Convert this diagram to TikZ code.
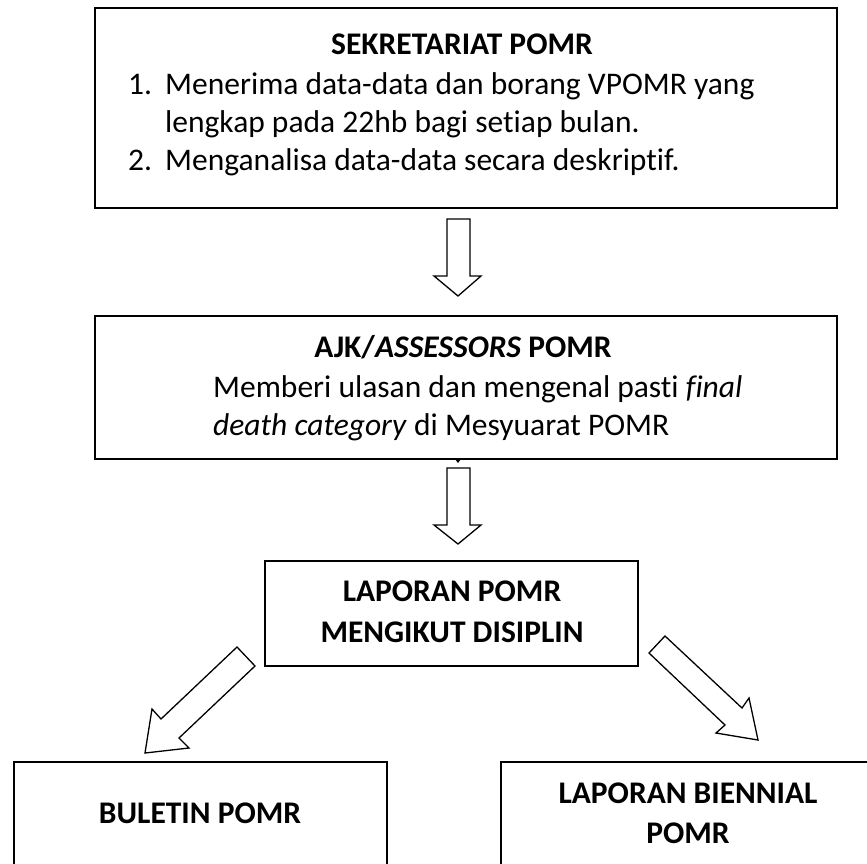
\documentclass[tikz,border=0pt]{standalone}
\usepackage{fontspec}
\setmainfont{Carlito}[Ligatures=NoCommon]
\begin{document}
\begin{tikzpicture}[x=1pt,y=-1pt,
  box/.style={draw,line width=1.8pt},
  blockarrow/.style={draw,line width=1.3pt,line join=miter,fill=white},
  txt/.style={inner sep=0pt,font=\fontsize{31.5}{38}\selectfont},
  btxt/.style={txt,font=\fontsize{31.5}{38}\selectfont\bfseries}]
\useasboundingbox (0,0) rectangle (867,863);
\clip (0,0) rectangle (867,863);
% boxes
\draw[box] (95,8) rectangle (837,208);
\draw[box] (95,316) rectangle (837,459);
\draw[box] (265,561) rectangle (638,666);
\draw[box] (14,762) rectangle (387,900);
\draw[box] (501,762) rectangle (880,900);
% box 1 text
\node[btxt,anchor=base] (t1) at (462,54) {SEKRETARIAT POMR};
\node[txt,anchor=base west] (n1) at (128,94) {1.};
\node[txt,anchor=base west] (l1) at (165,94) {Menerima data-data dan borang VPOMR yang};
\node[txt,anchor=base west] (l2) at (165,132) {lengkap pada 22hb bagi setiap bulan.};
\node[txt,anchor=base west] (n2) at (128,170) {2.};
\node[txt,anchor=base west] (l3) at (165,170) {Menganalisa data-data secara deskriptif.};
% box 2 text
\node[btxt,anchor=base] (t2) at (463,357) {AJK/\textit{ASSESSORS} POMR};
\node[txt,anchor=base west] (m1) at (213,397) {Memberi ulasan dan mengenal pasti \textit{final}};
\node[txt,anchor=base west] (m2) at (213,435) {\textit{death category} di Mesyuarat POMR};
% box 3 text
\node[btxt,anchor=base] (t3a) at (452,601) {LAPORAN POMR};
\node[btxt,anchor=base] (t3b) at (452,642) {MENGIKUT DISIPLIN};
% bottom boxes
\node[btxt,anchor=base] (t4) at (200,823) {BULETIN POMR};
\node[btxt,anchor=base] (t5a) at (688,803) {LAPORAN BIENNIAL};
\node[btxt,anchor=base] (t5b) at (688,843) {POMR};
% block arrows
\draw[blockarrow] (447,219) -- (470,219) -- (470,276) -- (481,276) -- (458,296) -- (434,276) -- (447,276) -- cycle;
\fill (455,459) -- (461,459) -- (458,463) -- cycle;
\draw[blockarrow] (447,468) -- (470,468) -- (470,525) -- (481,525) -- (458,544) -- (434,525) -- (447,525) -- cycle;
\draw[blockarrow] (237,647) -- (255,666) -- (179,738) -- (189,748) -- (145,753) -- (152,709) -- (161,719) -- cycle;
\draw[blockarrow] (665,636) -- (742,708) -- (749,698) -- (758,740) -- (716,733) -- (725,725) -- (649,653) -- cycle;
\end{tikzpicture}
\end{document}
